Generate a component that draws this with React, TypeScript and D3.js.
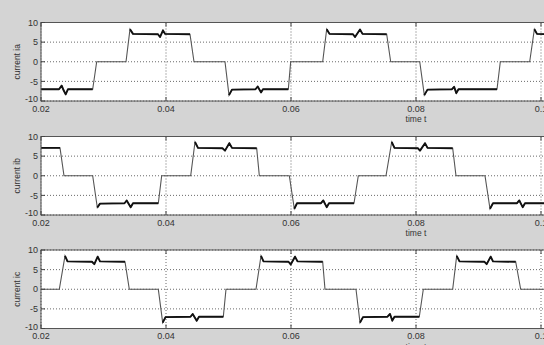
import React, { useEffect, useRef } from 'react';
import * as d3 from 'd3';

// three phase currents as [time t, current] breakpoints
const ia: [number, number][] = [
  [0.02, -7], [0.02288, -7], [0.02331, -6.1], [0.0236, -7.2], [0.02395, -8.3], [0.02432, -7],
  [0.02827, -7], [0.02891, 0], [0.0336, 0], [0.03424, 8.3], [0.03472, 7.1],
  [0.03872, 7], [0.03904, 6.3], [0.03952, 8], [0.03984, 7.1], [0.04384, 7],
  [0.04448, 0], [0.04944, 0], [0.05008, -8.5], [0.05056, -7.1],
  [0.05432, -7], [0.05467, -6.3], [0.0552, -7.8], [0.05552, -7], [0.05957, -7],
  [0.05995, 0], [0.06507, 0], [0.06571, 8.3], [0.06616, 7.1],
  [0.06992, 7], [0.07024, 6.3], [0.07104, 8.2], [0.07144, 7.1], [0.07531, 7],
  [0.07595, 0], [0.0806, 0], [0.08133, -8.5], [0.08184, -7.1],
  [0.08576, -7], [0.0861, -6.4], [0.08645, -8], [0.0868, -7], [0.09296, -7],
  [0.09349, 0], [0.09819, 0], [0.09894, 8.3], [0.09936, 7.1], [0.1015, 7],
];

const ib: [number, number][] = [
  [0.02, 7.1], [0.02304, 7.1], [0.02368, 0], [0.02827, 0], [0.02901, -8.1], [0.02944, -7.1],
  [0.03336, -7], [0.03371, -6.3], [0.03435, -8], [0.03472, -7], [0.03877, -7],
  [0.03931, 0], [0.04395, 0], [0.04464, 8.6], [0.04512, 7.1],
  [0.04904, 7], [0.04944, 6.4], [0.05013, 8.3], [0.05056, 7.1], [0.05451, 7],
  [0.05493, 0], [0.05973, 0], [0.06053, -8.4], [0.06096, -7],
  [0.0648, -7], [0.06517, -6.3], [0.06571, -8], [0.06608, -7], [0.07008, -7],
  [0.07077, 0], [0.0752, 0], [0.07611, 8.6], [0.07656, 7.1],
  [0.08032, 7], [0.08064, 6.4], [0.08144, 8.3], [0.08184, 7.1], [0.08587, 7],
  [0.0864, 0], [0.09104, 0], [0.09184, -8.4], [0.09232, -7],
  [0.09616, -7], [0.09653, -6.3], [0.09707, -8], [0.09744, -7], [0.1015, -7],
];

const ic: [number, number][] = [
  [0.02, 0], [0.02293, 0], [0.02384, 8.5], [0.02424, 7.1],
  [0.02816, 7], [0.02853, 6.4], [0.02907, 8.3], [0.02944, 7.1], [0.03344, 7],
  [0.03413, 0], [0.03877, 0], [0.03947, -8.5], [0.03992, -7.1],
  [0.04392, -7], [0.04427, -6.3], [0.04491, -8], [0.04528, -7], [0.04917, -7],
  [0.0496, 0], [0.0544, 0], [0.0552, 8.5], [0.0556, 7.1],
  [0.0596, 7], [0.05995, 6.3], [0.06064, 8.3], [0.06104, 7.1], [0.06507, 7],
  [0.06544, 0], [0.0704, 0], [0.07104, -8.5], [0.07152, -7.1],
  [0.07544, -7], [0.07584, -6.3], [0.07621, -8], [0.07656, -7], [0.08053, -7],
  [0.08117, 0], [0.08587, 0], [0.08651, 8.5], [0.08696, 7.1],
  [0.09096, 7], [0.09131, 6.4], [0.09195, 8.3], [0.09232, 7.1], [0.09595, 7],
  [0.09675, 0], [0.1015, 0],
];

const series = [ia, ib, ic];
const yLabels = ['current ia', 'current ib', 'current ic'];
const xLabel = 'time t';
const xTicks = [0.02, 0.04, 0.06, 0.08, 0.1];
const xTickLabels = ['0.02', '0.04', '0.06', '0.08', '0.1'];
const yTicks = [-10, -5, 0, 5, 10];

const W = 544;
const H = 345;
const left = 41;
const right = 791; // axes run past the cropped picture edge (0.02 .. 0.14)
const panelTops = [22.5, 136.5, 250];
const panelH = 78.5;
const font = '"Liberation Sans", Arial, sans-serif';

export default function App() {
  const ref = useRef<SVGSVGElement>(null);

  useEffect(() => {
    const svg = d3.select(ref.current);
    svg.selectAll('*').remove();

    svg.append('rect').attr('width', W).attr('height', H).attr('fill', '#d4d4d4');

    const x = d3.scaleLinear().domain([0.02, 0.14]).range([left, right]);

    series.forEach((data, i) => {
      const top = panelTops[i];
      const y = d3.scaleLinear().domain([-10, 10]).range([top + panelH, top]);
      const g = svg.append('g');

      g.append('clipPath').attr('id', 'clip' + i)
        .append('rect').attr('x', left).attr('y', top).attr('width', right - left).attr('height', panelH);

      g.append('rect')
        .attr('x', left).attr('y', top).attr('width', right - left).attr('height', panelH)
        .attr('fill', '#fff');

      // grid
      g.selectAll('.gy').data(yTicks).enter().append('line')
        .attr('x1', left).attr('x2', right)
        .attr('y1', d => y(d)).attr('y2', d => y(d))
        .attr('stroke', '#444').attr('stroke-width', 0.8).attr('stroke-dasharray', '1,2');
      g.selectAll('.gx').data(xTicks).enter().append('line')
        .attr('x1', d => x(d)).attr('x2', d => x(d))
        .attr('y1', top).attr('y2', top + panelH)
        .attr('stroke', '#444').attr('stroke-width', 0.8).attr('stroke-dasharray', '1,2');

      // waveform: thin trace everywhere, heavy trace while conducting
      const line = d3.line<[number, number]>().x(d => x(d[0])).y(d => y(d[1]));
      const lineOn = d3.line<[number, number]>()
        .defined(d => Math.abs(d[1]) > 5)
        .x(d => x(d[0])).y(d => y(d[1]));
      const plot = g.append('g').attr('clip-path', `url(#clip${i})`);
      plot.append('path').attr('d', line(data)).attr('fill', 'none')
        .attr('stroke', '#555').attr('stroke-width', 1.1);
      plot.append('path').attr('d', lineOn(data)).attr('fill', 'none')
        .attr('stroke', '#111').attr('stroke-width', 1.9).attr('stroke-linejoin', 'round');

      // box and ticks
      g.append('rect')
        .attr('x', left).attr('y', top).attr('width', right - left).attr('height', panelH)
        .attr('fill', 'none').attr('stroke', '#555').attr('stroke-width', 1);
      g.selectAll('.tx').data(xTicks).enter().append('path')
        .attr('d', d => `M${x(d)},${top + panelH}v-4M${x(d)},${top}v4`)
        .attr('stroke', '#444').attr('stroke-width', 1);
      g.selectAll('.ty').data(yTicks).enter().append('path')
        .attr('d', d => `M${left},${y(d)}h4`)
        .attr('stroke', '#444').attr('stroke-width', 1);

      // labels
      g.selectAll('.lx').data(xTicks).enter().append('text')
        .attr('x', d => x(d)).attr('y', top + panelH + 10.5)
        .attr('text-anchor', 'middle').attr('font-family', font).attr('font-size', 9)
        .attr('fill', '#333')
        .text((d, k) => xTickLabels[k]);
      g.selectAll('.ly').data(yTicks).enter().append('text')
        .attr('x', left - 3).attr('y', d => y(d) + (d === -10 ? 1 : 3.2))
        .attr('text-anchor', 'end').attr('font-family', font).attr('font-size', 9)
        .attr('fill', '#333')
        .text(d => String(d));
      g.append('text')
        .attr('x', x(0.08)).attr('y', top + panelH + 21)
        .attr('text-anchor', 'middle').attr('font-family', font).attr('font-size', 8.5)
        .attr('fill', '#333')
        .text(xLabel);
      g.append('text')
        .attr('transform', `translate(20,${top + panelH / 2}) rotate(-90)`)
        .attr('text-anchor', 'middle').attr('font-family', font).attr('font-size', 8.5)
        .attr('fill', '#333')
        .text(yLabels[i]);
    });
  }, []);

  return (
    <svg ref={ref} width={W} height={H}
      style={{ position: 'absolute', left: 0, top: 0, display: 'block' }} />
  );
}
